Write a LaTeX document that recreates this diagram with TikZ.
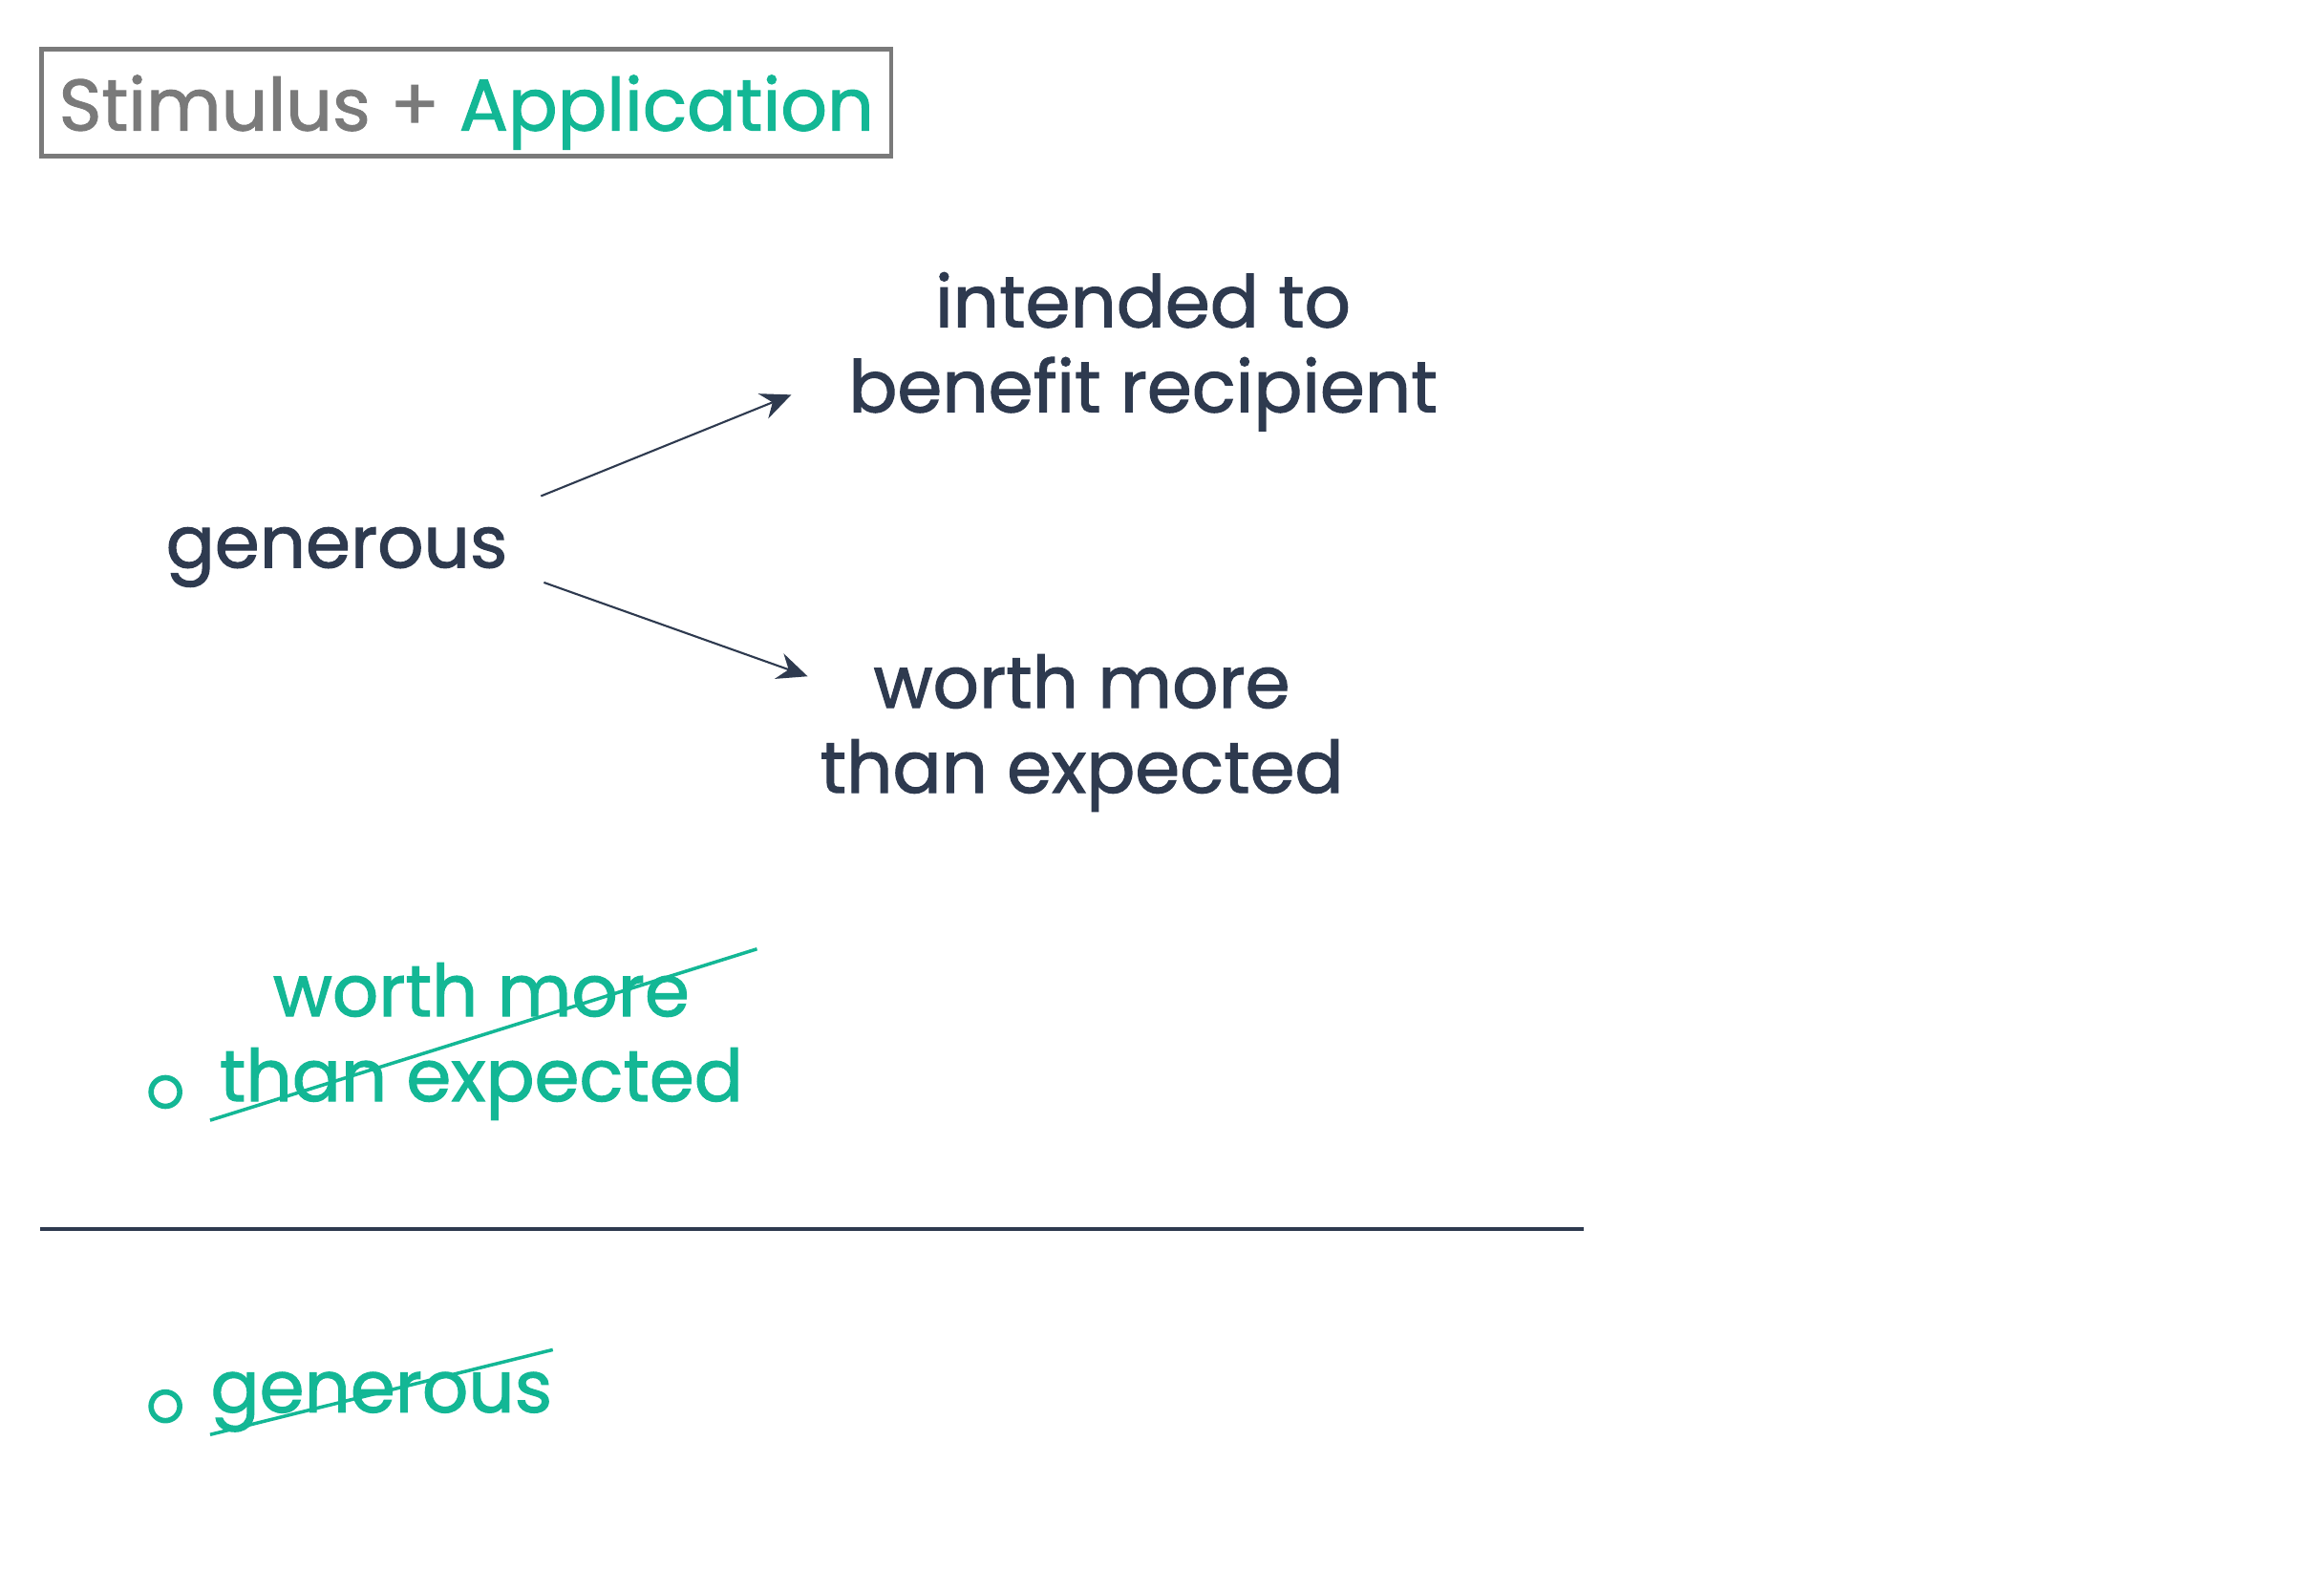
\documentclass[tikz,border=0pt]{standalone}
\usepackage{fontspec}
\setmainfont{Poppins}[FakeBold=1.4]
\usetikzlibrary{positioning,arrows.meta}
\definecolor{ink}{HTML}{2E3A4F}
\definecolor{mint}{HTML}{13B795}
\definecolor{ash}{HTML}{7A7A7A}
\tikzset{
  word/.style={font=\fontsize{21.5}{25.3}\selectfont,text=ink,align=center,inner sep=0pt},
  answer/.style={font=\fontsize{21.5}{25.3}\selectfont,text=mint,align=center,inner sep=0pt},
  arr/.style={draw=ink,line width=0.6pt,-{Stealth[length=9pt,width=8pt,inset=3pt]}},
  strike/.style={draw=mint,line width=1pt},
  bullet/.style={circle,draw=mint,line width=1.6pt,minimum size=0.3cm,inner sep=0pt}
}
\begin{document}
\begin{tikzpicture}[x=0.0156cm,y=-0.0156cm]
            \useasboundingbox (0,0) rectangle (1559.6,1053.2);
            \node[draw=ash,line width=1.4pt,minimum width=8.89cm,minimum height=1.12cm,inner sep=0pt,text depth=0pt,font=\fontsize{21.7}{25}\selectfont]
                (title) at (313,69) {\textcolor{ash}{Stimulus +} \textcolor{mint}{Application}};
            \node[word] (gen) at (226,374) {generous};
            \node[word] (ben) at (767,236) {intended to\\benefit recipient};
            \node[word] (wm) at (726,492) {worth more\\than expected};
            \draw[arr] ([shift={(137,-41)}]gen.center) -- ([shift={(-236,29)}]ben.center);
            \draw[arr] ([shift={(139,17)}]gen.center) -- ([shift={(-184,-38)}]wm.center);
            %rejected answers
            \node[answer] (wm2) at (323,699) {worth more\\than expected};
            \node[bullet] (b1) at (111,733) {};
            \draw[strike] ([shift={(-182,53)}]wm2.center) -- ([shift={(185,-62)}]wm2.center);
            \draw[ink,line width=1.1pt] (27,825) -- (1063,825);
            \node[answer] (gen2) at (256,941) {generous};
            \node[bullet] (b2) at (111,944) {};
            \draw[strike] ([shift={(-115,22)}]gen2.center) -- ([shift={(115,-35)}]gen2.center);
        \end{tikzpicture}
\end{document}
